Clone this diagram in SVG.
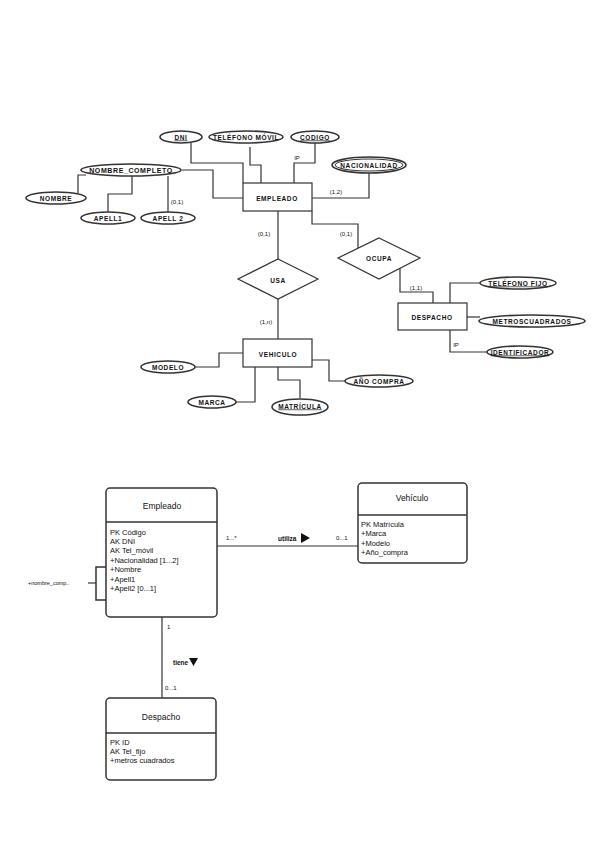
<svg xmlns="http://www.w3.org/2000/svg" width="599" height="848" viewBox="0 0 599 848">
<style>
.ln{fill:none;stroke:#333;stroke-width:1.2}
.ent{fill:#fff;stroke:#333;stroke-width:1.2}
.att{fill:#fff;stroke:#333;stroke-width:1.6}
.t{font-family:"Liberation Sans",Arial,sans-serif;font-weight:bold;font-size:6.5px;fill:#111;text-anchor:middle;dominant-baseline:central;letter-spacing:0.6px}
.c{font-family:"Liberation Sans",Arial,sans-serif;font-size:6px;fill:#111;text-anchor:middle;dominant-baseline:central}
.cls{fill:#fff;stroke:#333;stroke-width:1.5}
.ttl{font-family:"Liberation Sans",Arial,sans-serif;font-size:8.5px;fill:#111;text-anchor:middle;dominant-baseline:central}
.a{font-family:"Liberation Sans",Arial,sans-serif;font-size:7.5px;fill:#111;dominant-baseline:central}
.s{font-family:"Liberation Sans",Arial,sans-serif;font-size:6px;fill:#111;dominant-baseline:central}
.b{font-family:"Liberation Sans",Arial,sans-serif;font-size:6.5px;font-weight:bold;fill:#111;dominant-baseline:central}
</style>
<rect width="599" height="848" fill="#fff"/>
<g id="connectors">
<polyline class="ln" points="191,143 191,163 243,163 243,183"/>
<polyline class="ln" points="250,147 250,165 261,165 261,183"/>
<polyline class="ln" points="315,142 315,163 294,163 294,183"/>
<polyline class="ln" points="369,173 369,198 312,198"/>
<polyline class="ln" points="182,170 213,170 213,198 243,198"/>
<polyline class="ln" points="86,175 78,175 78,193"/>
<polyline class="ln" points="108,213 108,194 132,194 132,176"/>
<line class="ln" x1="168" y1="176" x2="168" y2="213"/>
<line class="ln" x1="278" y1="211" x2="278" y2="259"/>
<polyline class="ln" points="312,211 312,224 358,224 358,248"/>
<line class="ln" x1="278" y1="299" x2="278" y2="339"/>
<polyline class="ln" points="400,268 400,292 433,292 433,303"/>
<polyline class="ln" points="450,303 450,283 480,283"/>
<line class="ln" x1="467" y1="317" x2="480" y2="317"/>
<polyline class="ln" points="450,330 450,352 487,352"/>
<polyline class="ln" points="195,367 219,367 219,353 243,353"/>
<polyline class="ln" points="236,402 255,402 255,367"/>
<polyline class="ln" points="278,367 278,380 300,380 300,398"/>
<polyline class="ln" points="312,360 329,360 329,381 345,381"/>
<line class="ln" x1="217" y1="546" x2="358" y2="546"/>
<line class="ln" x1="162" y1="617" x2="162" y2="698"/>
<polyline class="ln" points="106,567 96,567 96,600 106,600" style="stroke-width:1.5"/>
<line class="ln" x1="88" y1="583" x2="96" y2="583"/>
</g>
<g id="labels">
<text class="c" x="297" y="158">IP</text>
<text class="c" x="336" y="192">(1,2)</text>
<text class="c" x="177" y="202">(0,1)</text>
<text class="c" x="264" y="234">(0,1)</text>
<text class="c" x="346" y="234">(0,1)</text>
<text class="c" x="266" y="322">(1,n)</text>
<text class="c" x="416" y="288">(1,1)</text>
<text class="c" x="456" y="345">IP</text>
</g>
<g id="dni"><ellipse class="att" cx="181" cy="137" rx="21" ry="6"/><text class="t" x="181" y="137" text-decoration="underline">DNI</text></g>
<g id="telmovil"><ellipse class="att" cx="246" cy="137" rx="37" ry="6"/><text class="t" x="246" y="137">TELÉFONO MÓVIL</text></g>
<g id="codigo"><ellipse class="att" cx="315" cy="137" rx="24" ry="6"/><text class="t" x="315" y="137" text-decoration="underline">CODIGO</text></g>
<g id="nacionalidad"><ellipse class="att" cx="369" cy="165" rx="37" ry="8"/><ellipse class="att" cx="369" cy="165" rx="34" ry="6" style="stroke-width:1"/><text class="t" x="369" y="165">NACIONALIDAD</text></g>
<g id="nombrecompleto"><ellipse class="att" cx="131" cy="170" rx="50" ry="6"/><text class="t" x="131" y="170" style="font-size:7px">NOMBRE_COMPLETO</text></g>
<g id="nombre"><ellipse class="att" cx="56" cy="198" rx="30" ry="6"/><text class="t" x="56" y="198">NOMBRE</text></g>
<g id="apell1"><ellipse class="att" cx="108" cy="218" rx="27" ry="6"/><text class="t" x="108" y="218">APELL1</text></g>
<g id="apell2"><ellipse class="att" cx="168" cy="218" rx="27" ry="6"/><text class="t" x="168" y="218">APELL 2</text></g>
<g id="empleado"><rect class="ent" x="243" y="183" width="69" height="28"/><text class="t" x="277" y="198">EMPLEADO</text></g>
<g id="usa"><polygon class="ent" points="278,259 318,279 278,299 238,279"/><text class="t" x="278" y="280">USA</text></g>
<g id="ocupa"><polygon class="ent" points="379,238 420,258 379,279 338,258"/><text class="t" x="379" y="258">OCUPA</text></g>
<g id="despacho"><rect class="ent" x="398" y="303" width="69" height="27"/><text class="t" x="432" y="317">DESPACHO</text></g>
<g id="telfijo"><ellipse class="att" cx="518" cy="283" rx="38" ry="6"/><text class="t" x="518" y="283" text-decoration="underline">TELÉFONO FIJO</text></g>
<g id="metros"><ellipse class="att" cx="532" cy="321" rx="53" ry="6"/><text class="t" x="532" y="321">METROSCUADRADOS</text></g>
<g id="identificador"><ellipse class="att" cx="520" cy="352" rx="33" ry="6"/><text class="t" x="520" y="352" text-decoration="underline">IDENTIFICADOR</text></g>
<g id="vehiculo"><rect class="ent" x="243" y="339" width="69" height="28"/><text class="t" x="278" y="354">VEHICULO</text></g>
<g id="modelo"><ellipse class="att" cx="168" cy="367" rx="27" ry="6"/><text class="t" x="168" y="367">MODELO</text></g>
<g id="marca"><ellipse class="att" cx="212" cy="402" rx="24" ry="6"/><text class="t" x="212" y="402">MARCA</text></g>
<g id="matricula"><ellipse class="att" cx="300" cy="407" rx="28" ry="8"/><text class="t" x="300" y="406" text-decoration="underline">MATRÍCULA</text></g>
<g id="anocompra"><ellipse class="att" cx="379" cy="381" rx="34" ry="6"/><text class="t" x="379" y="381">AÑO COMPRA</text></g>

<g id="uml-labels">
<text class="s" x="226" y="538">1...*</text>
<text class="b" x="278" y="538">utiliza</text>
<polygon points="301,533 310,538 301,543" fill="#111"/>
<text class="s" x="336" y="538">0...1</text>
<text class="s" x="167" y="627">1</text>
<text class="b" x="173" y="662">tiene</text>
<polygon points="189,658 198,658 193.5,666" fill="#111"/>
<text class="s" x="165" y="688">0...1</text>
<text class="s" x="28" y="583" style="font-size:5.5px">+nombre_comp..</text>
</g>
<g id="uml-empleado">
<rect class="cls" x="106" y="488" width="111" height="129" rx="4"/>
<line class="ln" x1="106" y1="522" x2="217" y2="522" style="stroke-width:1.5"/>
<text class="ttl" x="162" y="506">Empleado</text>
<text class="a" x="110" y="532">PK Código</text>
<text class="a" x="110" y="541">AK DNI</text>
<text class="a" x="110" y="550.5">AK Tel_móvil</text>
<text class="a" x="110" y="560">+Nacionalidad [1...2]</text>
<text class="a" x="110" y="569.5">+Nombre</text>
<text class="a" x="110" y="579">+Apell1</text>
<text class="a" x="110" y="588.5">+Apell2 [0...1]</text>
</g>
<g id="uml-vehiculo">
<rect class="cls" x="358" y="483" width="109" height="80" rx="4"/>
<line class="ln" x1="358" y1="515" x2="467" y2="515" style="stroke-width:1.5"/>
<text class="ttl" x="412" y="498">Vehículo</text>
<text class="a" x="361" y="524">PK Matrícula</text>
<text class="a" x="361" y="533.5">+Marca</text>
<text class="a" x="361" y="543">+Modelo</text>
<text class="a" x="361" y="552.5">+Año_compra</text>
</g>
<g id="uml-despacho">
<rect class="cls" x="106" y="698" width="110" height="82" rx="4"/>
<line class="ln" x1="106" y1="733" x2="216" y2="733" style="stroke-width:1.5"/>
<text class="ttl" x="161" y="717">Despacho</text>
<text class="a" x="110" y="742">PK ID</text>
<text class="a" x="110" y="751">AK Tel_fijo</text>
<text class="a" x="110" y="760">+metros cuadrados</text>
</g>
</svg>
